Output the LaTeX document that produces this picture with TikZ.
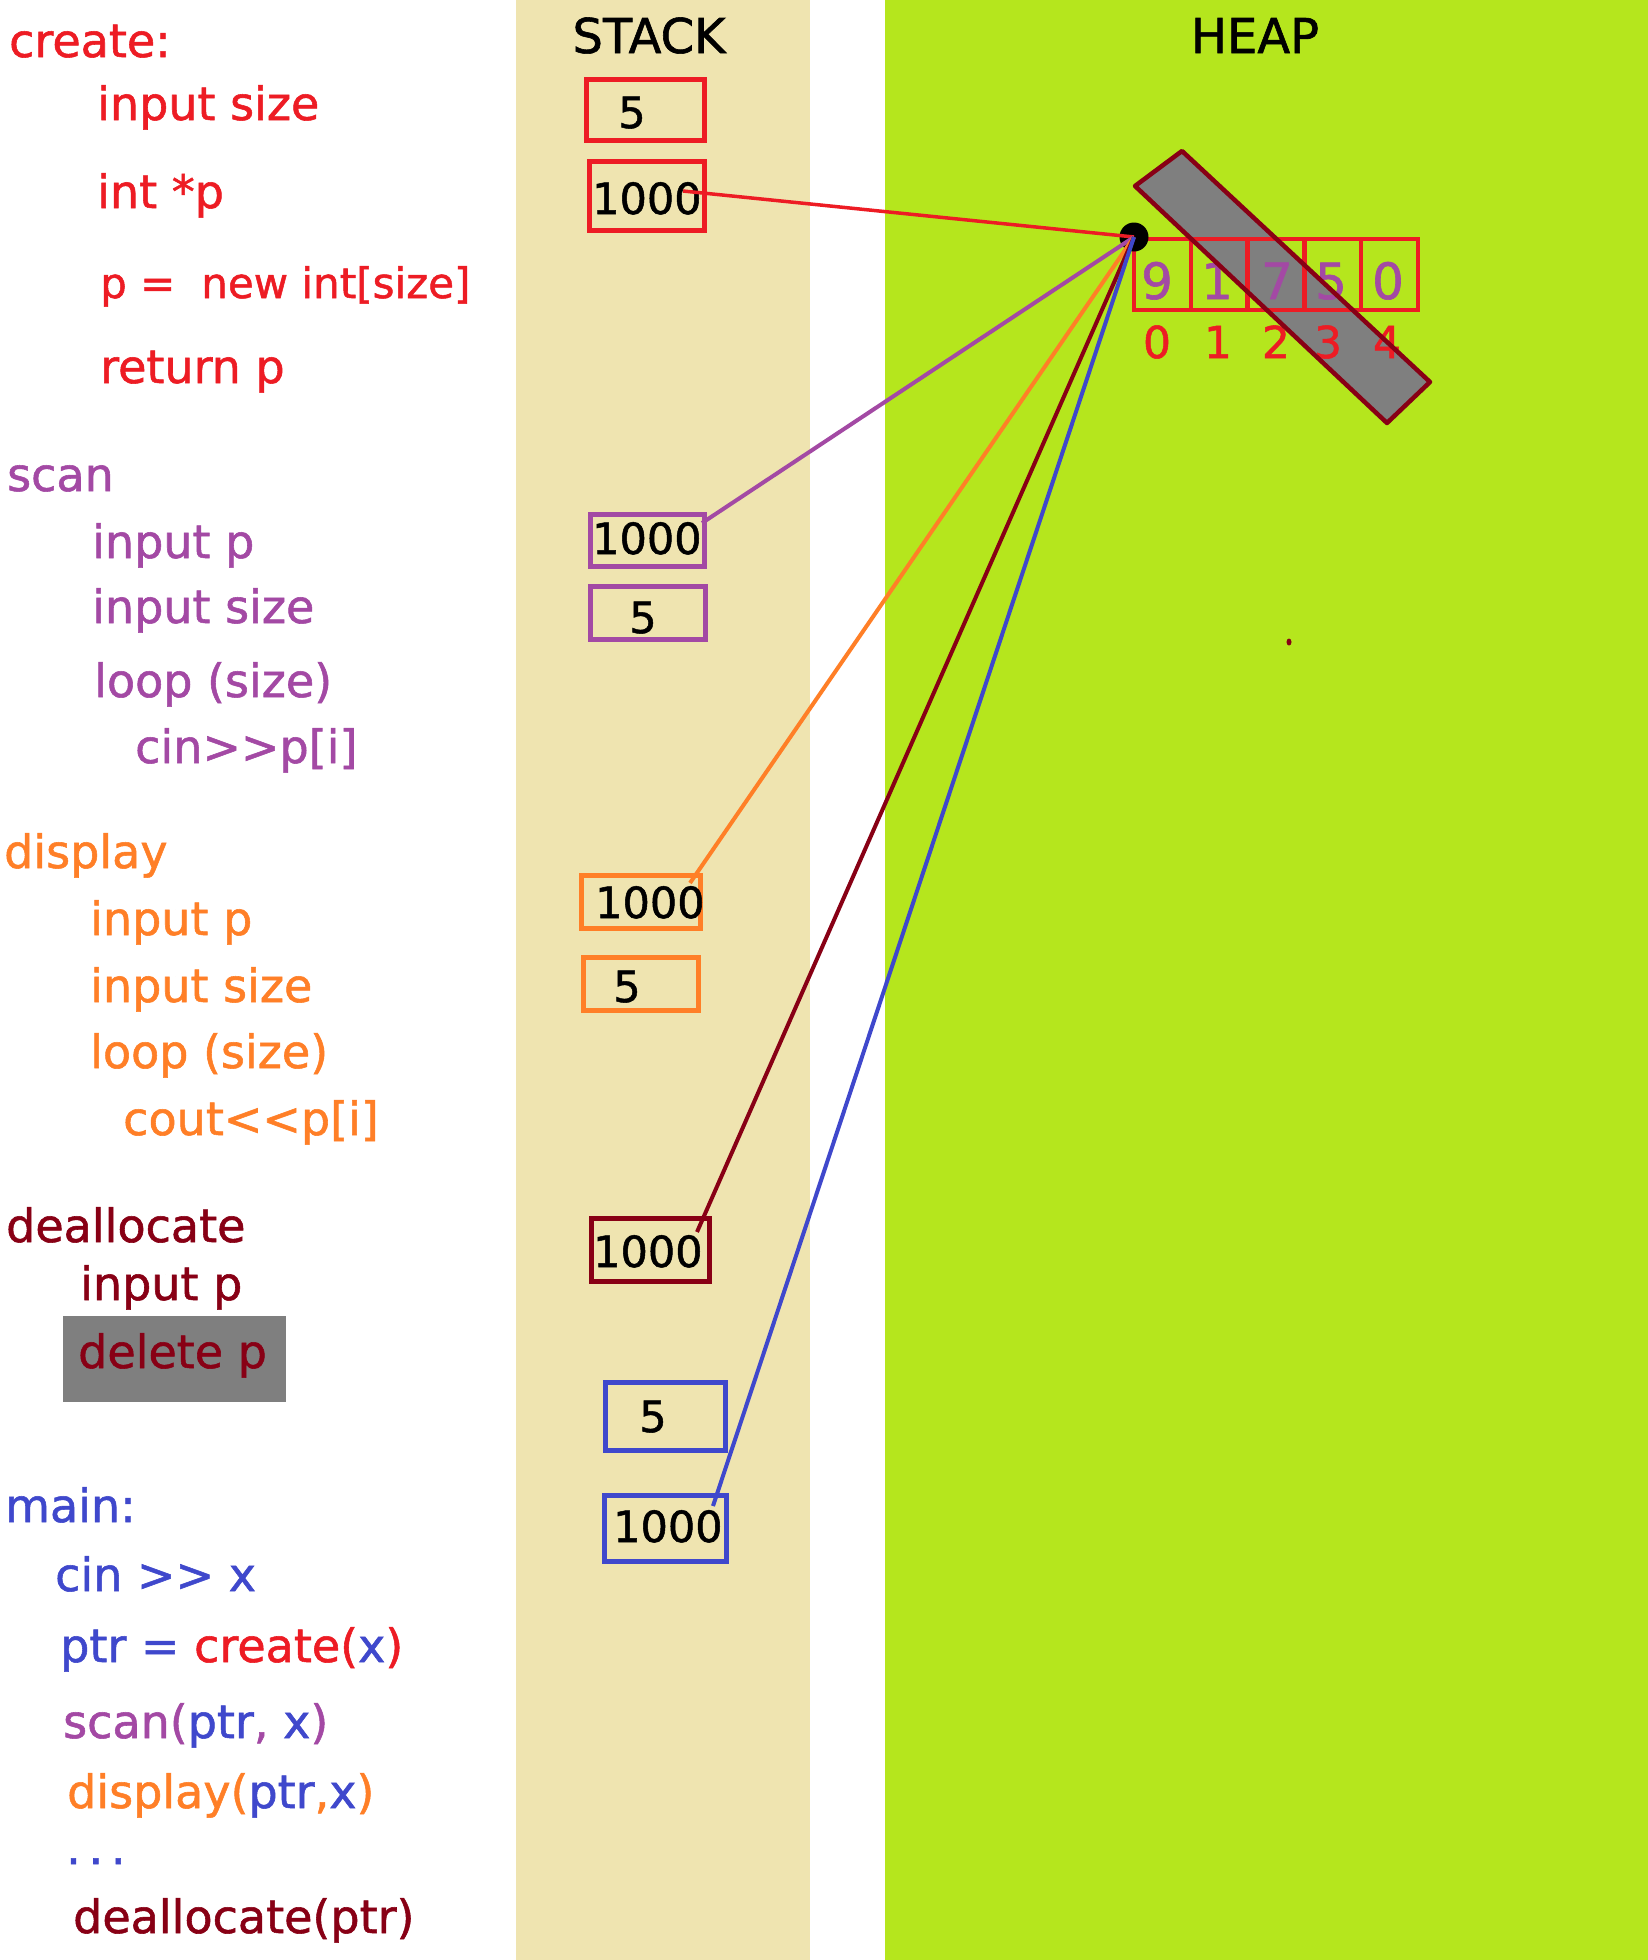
\documentclass[tikz,border=0pt]{standalone}
\usepackage{fontspec}
\setmainfont{DejaVu Sans}[FakeBold=1.2]
\definecolor{cred}{HTML}{ED1C24}
\definecolor{cpurple}{HTML}{A349A4}
\definecolor{corange}{HTML}{FF7F27}
\definecolor{cdred}{HTML}{880015}
\definecolor{cblue}{HTML}{3F48CC}
\definecolor{cgray}{HTML}{7F7F7F}
\definecolor{cbeige}{HTML}{EFE4B0}
\definecolor{clime}{HTML}{B5E61D}
\begin{document}
\begin{tikzpicture}[x=1pt,y=-1pt,
  txt/.style={inner sep=0pt, anchor=base west, font=\fontsize{46}{50}\selectfont},
  num/.style={inner sep=0pt, anchor=base west, font=\fontsize{43}{48}\selectfont, text=black},
  numc/.style={inner sep=0pt, anchor=base, font=\fontsize{43}{48}\selectfont, text=black},
  sbox/.style={draw=#1, line width=5pt, inner sep=0pt},
  cell/.style={draw=cred, line width=4.5pt, inner sep=0pt, minimum width=56.8pt, minimum height=71pt},
  val/.style={inner sep=0pt, anchor=base, font=\fontsize{50}{54}\selectfont, text=cpurple},
  idx/.style={inner sep=0pt, anchor=base, font=\fontsize{44}{48}\selectfont, text=cred},
  title/.style={inner sep=0pt, anchor=base, font=\fontsize{48}{52}\selectfont, text=black},
  link/.style={line width=4pt, draw=#1}
]
\useasboundingbox (0,0) rectangle (1648,1960);
\fill[white] (0,0) rectangle (1648,1960);
\fill[cbeige] (516,0) rectangle (810,1960);
\fill[clime] (885,0) rectangle (1648,1960);

% titles
\node[title] (tstack) at (649,53) {STACK};
\node[title] (theap) at (1255,53) {HEAP};

% create
\node[txt, text=cred] (c0) at (9,57) {create:};
\node[txt, text=cred] (c1) at (97,120) {input size};
\node[txt, text=cred] (c2) at (97,208) {int *p};
\node[txt, text=cred, font=\fontsize{42}{46}\selectfont] (c3) at (100,298) {p =\hspace{0.3em} new int[size]};
\node[txt, text=cred] (c4) at (100,383) {return p};

% scan
\node[txt, text=cpurple] (s0) at (7,491) {scan};
\node[txt, text=cpurple] (s1) at (92,558) {input p};
\node[txt, text=cpurple] (s2) at (92,623) {input size};
\node[txt, text=cpurple] (s3) at (94,697) {loop (size)};
\node[txt, text=cpurple] (s4) at (135,763) {cin>{}>p[i]};

% display
\node[txt, text=corange] (d0) at (4,868) {display};
\node[txt, text=corange] (d1) at (90,935) {input p};
\node[txt, text=corange] (d2) at (90,1002) {input size};
\node[txt, text=corange] (d3) at (90,1068) {loop (size)};
\node[txt, text=corange] (d4) at (123,1135) {cout<{}<p[i]};

% deallocate
\node[txt, text=cdred] (a0) at (6,1242) {deallocate};
\node[txt, text=cdred] (a1) at (80,1300) {input p};
\node[fill=cgray, inner sep=0pt, minimum width=223pt, minimum height=86pt] (delbox) at (174.5,1359) {};
\node[txt, text=cdred] (a2) at (78,1368) {delete p};

% main
\node[txt, text=cblue] (m0) at (5,1522) {main:};
\node[txt, text=cblue] (m1) at (55,1591) {cin >{}> x};
\node[txt] (m2) at (60,1662) {\textcolor{cblue}{ptr =} \textcolor{cred}{create(}\textcolor{cblue}{x}\textcolor{cred}{)}};
\node[txt] (m3) at (63,1738) {\textcolor{cpurple}{scan(}\textcolor{cblue}{ptr}\textcolor{cpurple}{,} \textcolor{cblue}{x}\textcolor{cpurple}{)}};
\node[txt] (m4) at (67,1808) {\textcolor{corange}{display(}\textcolor{cblue}{ptr}\textcolor{corange}{,}\textcolor{cblue}{x}\textcolor{corange}{)}};
\node[txt, text=cblue] (m5) at (66,1864) {.\hspace{0.17em}.\hspace{0.17em}.};
\node[txt, text=cdred] (m6) at (73,1933) {deallocate(ptr)};

% stack boxes
\node[sbox=cred, minimum width=118pt, minimum height=61pt] (b1) at (645,109.5) {};
\node[numc] (n1) at (632,128) {5};
\node[sbox=cred, minimum width=115pt, minimum height=69pt] (b2) at (646.5,195.5) {};
\node[num] (n2) at (592,214) {1000};
\node[sbox=cpurple, minimum width=114pt, minimum height=52pt] (b3) at (647,540) {};
\node[num] (n3) at (592,554) {1000};
\node[sbox=cpurple, minimum width=115pt, minimum height=53pt] (b4) at (647.5,612.5) {};
\node[numc] (n4) at (643,633) {5};
\node[sbox=corange, minimum width=119pt, minimum height=53pt] (b5) at (640.5,901.5) {};
\node[num] (n5) at (595,918) {1000};
\node[sbox=corange, minimum width=115pt, minimum height=53pt] (b6) at (640.5,983.5) {};
\node[numc] (n6) at (627,1002) {5};
\node[sbox=cdred, minimum width=118pt, minimum height=63pt] (b7) at (650,1249.5) {};
\node[num] (n7) at (593,1267) {1000};
\node[sbox=cblue, minimum width=120pt, minimum height=68pt] (b8) at (665,1416) {};
\node[numc] (n8) at (653,1432) {5};
\node[sbox=cblue, minimum width=122pt, minimum height=66pt] (b9) at (665,1528) {};
\node[num] (n9) at (613,1542) {1000};

% heap: deleted block fill
\fill[cgray] (1182,151) -- (1430,382) -- (1387,423) -- (1135,186) -- cycle;

% array
\node[cell] (k0) at (1162.4,274.5) {};
\node[cell] (k1) at (1219.2,274.5) {};
\node[cell] (k2) at (1276,274.5) {};
\node[cell] (k3) at (1332.8,274.5) {};
\node[cell] (k4) at (1389.6,274.5) {};
\node[val] (v0) at (1157,299) {9};
\node[val] (v1) at (1217,299) {1};
\node[val] (v2) at (1277,299) {7};
\node[val] (v3) at (1331,299) {5};
\node[val] (v4) at (1388,299) {0};
\node[idx] (i0) at (1157,358) {0};
\node[idx] (i1) at (1218,358) {1};
\node[idx] (i2) at (1276,358) {2};
\node[idx] (i3) at (1328,358) {3};
\node[idx] (i4) at (1387,358) {4};

% deleted block outline
\draw[cdred, line width=4.5pt, line join=round] (1182,151) -- (1430,382) -- (1387,423) -- (1135,186) -- cycle;
\fill[cdred] (1289,642) ellipse [x radius=2.5pt, y radius=3.5pt];

% pointer dot
\node[circle, fill=black, minimum size=29pt, inner sep=0pt] (dot) at (1134,237) {};

% connectors
\coordinate (p1) at (683,191);
\coordinate (p2) at (702,523);
\coordinate (p3) at (690,883);
\coordinate (p4) at (697,1232);
\coordinate (p5) at (713,1506);
\draw[link=cred, line width=3.5pt] (p1) -- (dot.center);
\draw[link=cpurple] (p2) -- (dot.center);
\draw[link=corange] (p3) -- (dot.center);
\draw[link=cdred] (p4) -- (dot.center);
\draw[link=cblue] (p5) -- (dot.center);
\end{tikzpicture}
\end{document}
